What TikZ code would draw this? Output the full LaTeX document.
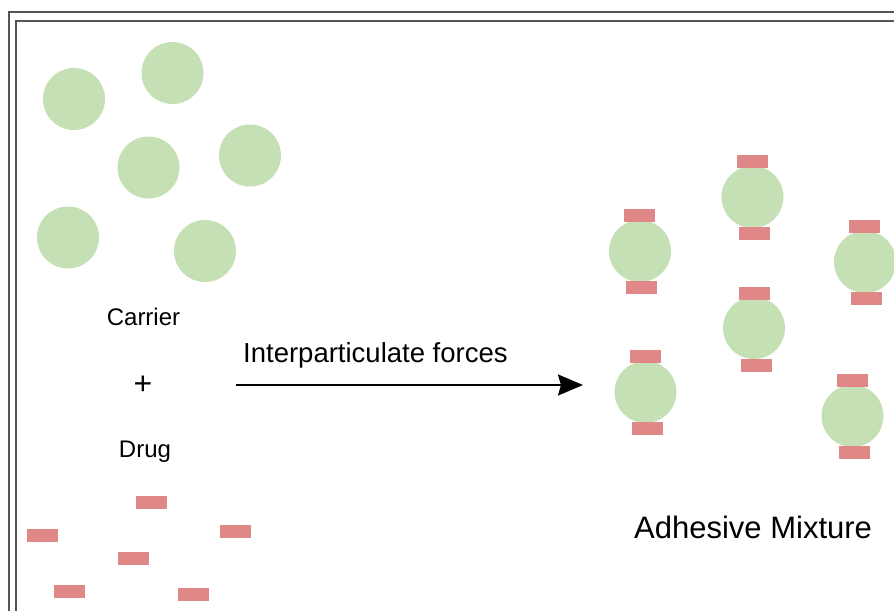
\documentclass[tikz,border=0pt]{standalone}
\usepackage{fontspec}
\setmainfont{Liberation Sans}
\usetikzlibrary{arrows.meta}
\definecolor{carrierg}{HTML}{C5E0B4}
\definecolor{drugr}{HTML}{E08888}
\definecolor{framegray}{HTML}{555555}
\tikzset{
  particle/.style={circle, fill=carrierg, draw=none, minimum size=62pt, inner sep=0pt},
  drugbar/.style={rectangle, fill=drugr, draw=none, minimum width=31pt, minimum height=13pt, inner sep=0pt},
  framelineA/.style={draw=framegray, line width=2.2pt},
  lbl/.style={inner sep=0pt, anchor=base, text=black},
}
\begin{document}
\begin{tikzpicture}[x=1pt, y=-1pt]
\useasboundingbox (0,0) rectangle (894,611);
\clip (0,0) rectangle (894,611);
% frame
\coordinate (fo1) at (9,611);
\coordinate (fo2) at (9,12);
\coordinate (fo3) at (894,12);
\coordinate (fi1) at (16,611);
\coordinate (fi2) at (16,21);
\coordinate (fi3) at (894,21);
\draw[framelineA] (fo1) -- (fo2) -- (fo3);
\draw[framelineA] (fi1) -- (fi2) -- (fi3);
% carrier particles
\node[particle] (c1) at (74,99) {};
\node[particle] (c2) at (172.5,73) {};
\node[particle] (c3) at (148.5,167.5) {};
\node[particle] (c4) at (250,155.5) {};
\node[particle] (c5) at (68,237.5) {};
\node[particle] (c6) at (205,251) {};
% drug particles
\node[drugbar] (d1) at (151,502.5) {};
\node[drugbar] (d2) at (42,535.5) {};
\node[drugbar] (d3) at (235.5,531) {};
\node[drugbar] (d4) at (133,558.5) {};
\node[drugbar] (d5) at (69.5,591.5) {};
\node[drugbar] (d6) at (193.5,594) {};
% labels
\node[lbl, font=\fontsize{24}{28}\selectfont] (carrier) at (143.5,325) {Carrier};
\node[lbl, font=\fontsize{32}{36}\selectfont] (plus) at (143,394) {+};
\node[lbl, font=\fontsize{24}{28}\selectfont] (drug) at (145,457) {Drug};
\node[lbl, anchor=base west, font=\fontsize{27.5}{32}\selectfont] (forces) at (243,362) {Interparticulate forces};
\node[lbl, anchor=base west, font=\fontsize{31}{36}\selectfont] (mix) at (634,538) {Adhesive Mixture};
% arrow
\coordinate (arrS) at (236,385);
\coordinate (arrE) at (583,385);
\draw[line width=2pt, -{Stealth[length=25pt, width=21pt, inset=3pt]}] (arrS) -- (arrE);
% adhesive mixture
\node[particle] (m1) at (640,251) {};
\node[particle] (m2) at (752.5,197) {};
\node[particle] (m3) at (865,262) {};
\node[particle] (m4) at (754,328) {};
\node[particle] (m5) at (645.5,392) {};
\node[particle] (m6) at (852.5,416) {};
\node[drugbar] (m1t) at (639.5,215.5) {};
\node[drugbar] (m1b) at (641.5,287.5) {};
\node[drugbar] (m2t) at (752.5,161.5) {};
\node[drugbar] (m2b) at (754.5,233.5) {};
\node[drugbar] (m3t) at (864.5,226) {};
\node[drugbar] (m3b) at (866.5,298) {};
\node[drugbar] (m4t) at (754,293.5) {};
\node[drugbar] (m4b) at (756,365) {};
\node[drugbar] (m5t) at (645.5,356.5) {};
\node[drugbar] (m5b) at (647,428) {};
\node[drugbar] (m6t) at (852.5,380) {};
\node[drugbar] (m6b) at (854.5,452) {};
\end{tikzpicture}
\end{document}
